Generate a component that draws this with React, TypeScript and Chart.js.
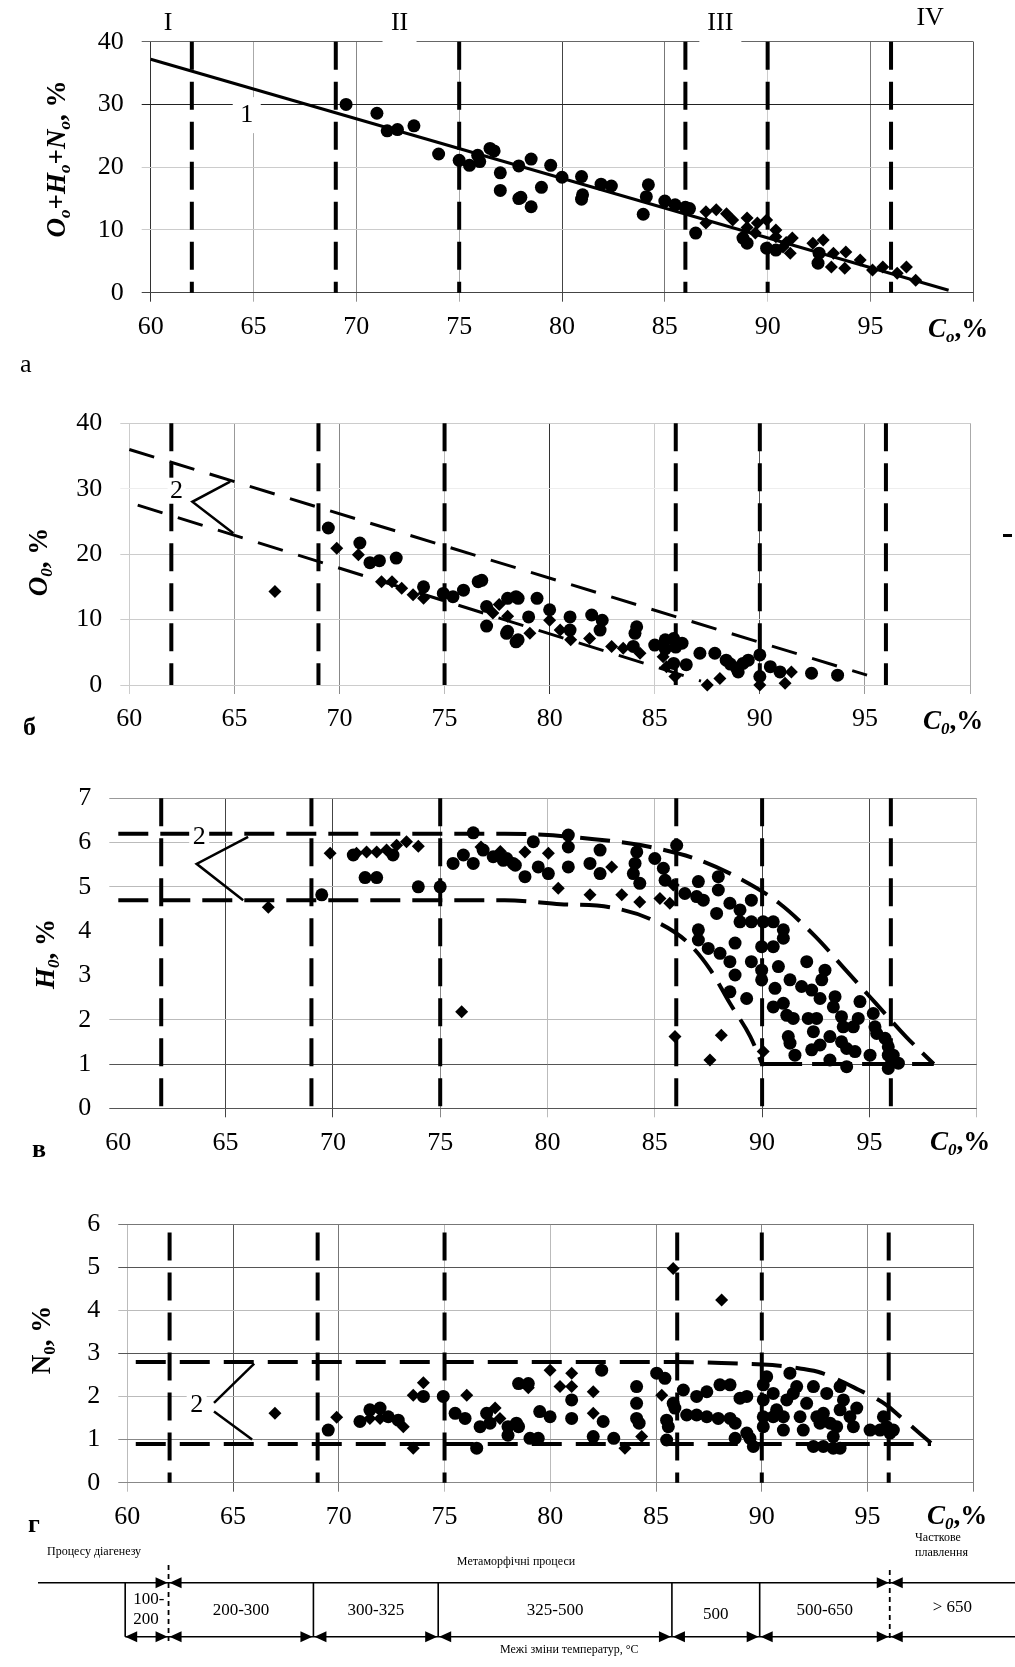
import React, { useEffect, useRef } from 'react';
import { Chart, registerables } from 'chart.js';

Chart.register(...registerables);

type Pt = [number, number];
type Seg = { t: string; b?: boolean; i?: boolean; s?: boolean };

const FONT = '"Liberation Serif", "Times New Roman", Times, serif';
const PAGE_W = 1015;

// ---------- shared axis data ----------
const xTickValues = [60, 65, 70, 75, 80, 85, 90, 95, 100];
const yTicksA = [0, 10, 20, 30, 40];
const yTicksB = [0, 10, 20, 30, 40];
const yTicksV = [0, 1, 2, 3, 4, 5, 6, 7];
const yTicksG = [0, 1, 2, 3, 4, 5, 6];
const stageBounds = [62, 69, 75, 86, 90, 96];
const stageNames = ['I', 'II', 'III', 'IV'];
const stageNameAt = [60.85, 72.1, 87.7, 97.9];

// ---------- panel a : O+H+N ----------
const aTrend: Pt[] = [[60, 37.2], [98.8, 0.4]];
const aCircles: Pt[] = [
  [69.5, 30.0], [71.0, 28.6], [71.5, 25.8], [72.0, 26.0], [72.8, 26.6], [74.0, 22.1], [75.0, 21.1],
  [75.5, 20.3], [76.0, 20.9], [75.9, 21.9], [76.5, 23.0], [76.7, 22.6], [77.0, 19.1], [77.0, 16.3],
  [77.9, 15.0], [77.9, 20.2], [78.5, 21.3], [78.0, 15.2], [78.5, 13.7], [79.0, 16.8], [79.45, 20.3],
  [80.0, 18.4], [80.95, 18.5], [80.95, 14.9], [81.0, 15.6], [81.9, 17.3], [82.4, 17.0], [84.2, 17.2],
  [84.1, 15.3], [83.95, 12.5], [85.0, 14.6], [85.5, 14.0], [86.0, 13.6], [86.2, 13.4], [86.5, 9.5],
  [88.8, 8.7], [89.0, 7.9], [89.95, 7.1], [90.4, 6.8], [92.45, 4.7], [92.5, 6.3],
];
const aDiamonds: Pt[] = [
  [87.0, 12.9], [87.5, 13.2], [88.0, 12.6], [87.0, 11.1], [88.3, 11.6], [89.0, 11.9], [89.0, 10.4],
  [89.4, 9.5], [89.5, 11.1], [89.95, 11.6], [90.4, 10.0], [90.4, 8.9], [90.75, 7.3], [90.9, 8.0],
  [91.1, 6.3], [91.2, 8.7], [92.2, 7.9], [92.7, 8.4], [93.1, 4.1], [93.2, 6.3], [93.75, 3.9],
  [93.8, 6.5], [94.5, 5.2], [95.1, 3.6], [95.6, 4.1], [96.3, 3.1], [96.75, 4.1], [97.2, 2.0],
];

// ---------- panel б : O ----------
const bUpper: Pt[] = [[60, 36.0], [95.1, 1.5]];
const bLower: Pt[] = [[60.4, 27.5], [87.2, 0.6]];
const bZigzag: Pt[] = [[64.8, 31.1], [63.0, 28.0], [64.95, 23.2]];
const bCircles: Pt[] = [
  [69.47, 24.0], [70.97, 21.7], [71.45, 18.7], [71.9, 19.0], [72.7, 19.4], [74.0, 15.0], [74.94, 14.0],
  [75.4, 13.5], [75.9, 14.5], [76.6, 15.8], [76.77, 16.0], [77.0, 12.0], [77.0, 9.0], [78.0, 13.25],
  [77.95, 7.9], [78.4, 6.6], [78.5, 13.25], [78.4, 13.5], [79.4, 13.25], [80.0, 11.5], [79.0, 10.4],
  [78.5, 6.9], [78.0, 8.2], [80.97, 10.4], [80.97, 8.4], [82.0, 10.7], [82.5, 9.9], [82.4, 8.4],
  [84.14, 8.9], [84.06, 7.9], [83.98, 5.9], [85.0, 6.1], [85.5, 6.9], [85.9, 7.1], [86.3, 6.4],
  [85.5, 5.5], [86.0, 5.8], [86.5, 3.1], [85.9, 3.3], [87.15, 4.85], [87.86, 4.85], [88.4, 3.8],
  [88.6, 3.2], [89.2, 3.3], [88.9, 2.55], [88.97, 2.0], [89.45, 3.8], [90.0, 4.6], [90.0, 1.3],
  [90.5, 2.8], [90.96, 2.0], [92.46, 1.8], [93.7, 1.5],
];
const bDiamonds: Pt[] = [
  [66.93, 14.3], [69.87, 20.9], [70.9, 19.9], [72.0, 15.8], [72.5, 15.8], [72.96, 14.8], [73.5, 13.8],
  [74.0, 13.25], [77.3, 11.0], [77.6, 12.3], [78.0, 10.5], [79.06, 7.9], [80.0, 9.9], [80.5, 8.4],
  [81.0, 6.9], [81.9, 7.1], [82.95, 5.9], [83.5, 5.6], [84.3, 4.85], [85.4, 4.3], [85.56, 2.8],
  [85.96, 1.3], [87.5, 0.0], [88.1, 1.0], [90.0, 0.0], [91.2, 0.25], [91.5, 2.0],
];

// ---------- panel в : H ----------
const vUpper: Pt[] = [
  [60, 6.2], [78, 6.2], [82.9, 6.04], [85.1, 5.87], [87.1, 5.6], [89.1, 5.15], [90.8, 4.63],
  [92.5, 3.87], [93.9, 3.12], [95.3, 2.37], [96.7, 1.62], [98, 1.0],
];
const vLower: Pt[] = [
  [60, 4.7], [78, 4.7], [80.6, 4.61], [82.9, 4.54], [84.9, 4.25], [86.5, 3.76], [87.6, 3.12],
  [88.5, 2.37], [89.45, 1.62], [90, 1.0],
];
const vBase: Pt[] = [[90, 1.0], [98, 1.0]];
const vZigzag: Pt[] = [[66.05, 6.13], [63.65, 5.52], [65.82, 4.7]];
const vCircles: Pt[] = [
  [69.48, 4.82], [70.95, 5.72], [72.8, 5.72], [71.5, 5.21], [72.04, 5.21], [73.98, 5.0], [75.0, 5.0],
  [76.54, 6.22], [75.6, 5.53], [76.08, 5.72], [76.54, 5.53], [77.0, 5.83], [77.47, 5.68], [77.94, 5.6],
  [78.4, 5.53], [78.1, 5.64], [78.5, 5.49], [78.95, 5.23], [79.34, 6.02], [79.57, 5.45], [80.04, 5.3],
  [80.97, 6.17], [80.97, 5.9], [80.97, 5.45], [81.98, 5.53], [82.45, 5.83], [82.45, 5.3], [84.0, 5.3],
  [84.16, 5.79], [84.08, 5.53], [84.3, 5.08], [85.0, 5.64], [85.4, 5.42], [85.48, 5.15], [86.02, 5.94],
  [86.4, 4.85], [87.03, 5.12], [86.95, 4.78], [87.26, 4.7], [87.03, 4.03], [87.03, 3.8], [87.49, 3.61],
  [87.96, 5.23], [87.96, 4.93], [87.88, 4.4], [88.04, 3.5], [88.5, 3.31], [88.74, 3.73], [88.74, 3.01],
  [88.5, 2.63], [89.28, 2.48], [88.5, 4.63], [88.97, 4.48], [88.97, 4.21], [89.5, 4.7], [89.5, 4.21],
  [89.5, 3.31], [90.05, 4.21], [89.98, 3.65], [89.98, 3.12], [89.98, 2.9], [90.52, 4.21], [90.52, 3.65],
  [90.99, 4.03], [90.99, 3.84], [90.76, 3.2], [90.6, 2.71], [90.52, 2.29], [90.99, 2.37], [91.3, 2.9],
  [91.15, 2.1], [91.45, 2.03], [91.22, 1.62], [91.3, 1.47], [91.53, 1.2], [92.08, 3.31], [91.84, 2.75],
  [92.31, 2.67], [92.15, 2.03], [92.54, 2.03], [92.39, 1.73], [92.31, 1.32], [92.7, 1.43], [92.93, 3.12],
  [92.78, 2.9], [92.7, 2.48], [93.16, 1.62], [93.16, 1.09], [93.4, 2.52], [93.32, 2.29], [93.7, 2.07],
  [93.78, 1.84], [93.94, 1.35], [93.94, 0.94], [93.7, 1.5], [94.25, 1.84], [94.48, 2.03], [94.33, 1.28],
  [94.56, 2.41], [95.03, 1.2], [95.18, 2.14], [95.26, 1.84], [95.34, 1.69], [95.73, 1.58], [95.88, 1.39],
  [95.88, 1.2], [96.04, 1.05], [95.88, 0.9], [96.35, 1.02], [96.11, 1.2],
];
const vDiamonds: Pt[] = [
  [66.99, 4.54], [69.87, 5.76], [71.1, 5.76], [71.57, 5.79], [72.04, 5.79], [72.5, 5.83], [72.97, 5.94],
  [73.43, 6.02], [73.98, 5.92], [76.0, 2.18], [76.9, 5.9], [77.8, 5.8], [78.95, 5.79], [80.04, 5.76],
  [80.5, 4.97], [82.99, 5.45], [81.98, 4.82], [83.46, 4.82], [84.3, 4.66], [85.24, 4.74], [85.86, 5.04],
  [85.7, 4.63], [85.94, 1.62], [88.1, 1.65], [87.57, 1.09], [90.05, 1.28],
];

// ---------- panel г : N ----------
const gUpper: Pt[] = [
  [60.4, 2.8], [86, 2.8], [88.5, 2.77], [90.5, 2.73], [91.8, 2.65], [92.8, 2.55], [94.6, 2.15],
  [95.9, 1.8], [96.5, 1.55], [98, 0.92],
];
const gLower: Pt[] = [[60.4, 0.9], [98, 0.9]];
const gZigTop: Pt[] = [[66.0, 2.76], [64.1, 1.85]];
const gZigBottom: Pt[] = [[64.1, 1.65], [65.9, 1.0]];
const gCircles: Pt[] = [
  [69.5, 1.22], [71.0, 1.42], [71.47, 1.69], [71.95, 1.73], [72.34, 1.53], [72.81, 1.45], [74.0, 2.0],
  [74.94, 2.0], [75.5, 1.61], [75.97, 1.49], [76.68, 1.3], [77.15, 1.38], [76.99, 1.61], [76.52, 0.8],
  [78.0, 1.3], [78.0, 1.1], [78.4, 1.38], [78.5, 2.3], [78.96, 2.3], [78.5, 1.3], [79.04, 1.03],
  [79.43, 1.03], [79.5, 1.65], [79.99, 1.53], [81.01, 1.92], [81.01, 1.49], [82.43, 2.61], [82.5, 1.42],
  [82.03, 1.07], [83.0, 1.03], [84.08, 2.23], [84.08, 1.84], [84.08, 1.49], [84.2, 1.38], [85.03, 2.54],
  [85.42, 2.42], [85.81, 1.84], [85.89, 1.73], [85.5, 1.45], [85.58, 1.3], [85.5, 0.99], [86.45, 1.57],
  [86.92, 1.57], [87.4, 1.53], [87.94, 1.49], [88.5, 1.49], [86.29, 2.15], [86.92, 2.0], [87.4, 2.11],
  [88.02, 2.27], [88.5, 2.27], [88.74, 1.38], [89.29, 1.15], [89.6, 0.84], [89.44, 1.03], [88.74, 1.03],
  [89.29, 2.0], [88.97, 1.96], [90.07, 2.27], [90.07, 1.92], [90.07, 1.53], [90.07, 1.3], [90.23, 2.46],
  [90.54, 2.07], [90.54, 1.53], [90.7, 1.69], [91.02, 1.53], [91.02, 1.22], [91.18, 1.92], [91.49, 2.07],
  [91.33, 2.54], [91.65, 2.23], [91.81, 1.53], [91.96, 1.22], [92.12, 1.84], [92.44, 2.23], [92.6, 1.53],
  [92.91, 1.61], [92.75, 1.38], [93.07, 2.07], [93.23, 1.38], [93.38, 1.07], [93.54, 1.3], [93.7, 2.23],
  [93.7, 1.69], [93.86, 1.92], [94.17, 1.53], [94.33, 1.3], [94.49, 1.73], [92.44, 0.84], [92.91, 0.84],
  [93.38, 0.8], [93.7, 0.8], [95.12, 1.22], [95.59, 1.22], [95.75, 1.53], [95.9, 1.3], [96.22, 1.22],
  [96.06, 1.15],
];
const gDiamonds: Pt[] = [
  [66.98, 1.61], [69.9, 1.52], [71.47, 1.49], [71.95, 1.49], [73.05, 1.3], [73.52, 0.8], [73.52, 2.03],
  [74.0, 2.32], [76.05, 2.03], [77.39, 1.73], [77.62, 1.49], [78.96, 2.2], [79.99, 2.61], [81.01, 2.54],
  [80.46, 2.23], [81.01, 2.23], [82.03, 2.11], [82.03, 1.61], [83.53, 0.8], [84.32, 1.07], [85.27, 2.03],
  [85.81, 4.97], [88.1, 4.24],
];

// ---------- temperature scale ----------
const tempBounds = [59.9, 61.95, 68.8, 74.7, 85.75, 89.9, 96.05];
const tempLabels = ['100-200', '200-300', '300-325', '325-500', '500', '500-650', '> 650'];
const processLabels = ['Процесу діагенезу', 'Метаморфічні процеси', 'Часткове', 'плавлення'];
const tempCaption = 'Межі зміни температур, °C';

// ---------- grid colours ----------
const T = 'rgba(0,0,0,0)';
const aXGrid = ['#333', '#aaa', '#888', '#aaa', '#444', '#777', '#ccc', '#777', '#555'];
const aYGrid = ['#444', '#ccc', '#ccc', '#222', '#666'];
const bXGrid = ['#ccc', '#999', '#888', '#bbb', '#333', '#ccc', '#555', '#999', '#aaa'];
const bYGrid = ['#ccc', '#ccc', '#ccc', '#eee', '#ccc'];
const vXGrid = [T, '#444', '#444', '#888', '#bbb', '#bbb', '#444', '#444', '#bbb'];
const vYGrid = ['#555', '#555', '#bbb', T, T, '#bbb', '#bbb', '#999'];
const gXGrid = ['#bbb', '#555', '#777', '#bbb', '#bbb', '#888', '#888', '#888', '#777'];
const gYGrid = ['#888', '#888', '#bbb', '#555', '#bbb', '#555', '#777'];

// ---------- helpers ----------
function rich(ctx: CanvasRenderingContext2D, segs: Seg[], x: number, y: number, size: number, align: 'left' | 'center', rotate = false) {
  ctx.save();
  ctx.translate(x, y);
  if (rotate) ctx.rotate(-Math.PI / 2);
  const fonts = segs.map((s) => `${s.i ? 'italic ' : ''}${s.b ? 'bold ' : ''}${s.s ? Math.round(size * 0.62) : size}px ${FONT}`);
  let total = 0;
  const widths = segs.map((s, k) => {
    ctx.font = fonts[k];
    const w = ctx.measureText(s.t).width;
    total += w;
    return w;
  });
  let cx = align === 'center' ? -total / 2 : 0;
  ctx.textBaseline = 'middle';
  ctx.textAlign = 'left';
  ctx.fillStyle = '#000';
  segs.forEach((s, k) => {
    ctx.font = fonts[k];
    ctx.fillText(s.t, cx, s.s ? size * 0.27 : 0);
    cx += widths[k];
  });
  ctx.restore();
}

function text(ctx: CanvasRenderingContext2D, t: string, x: number, y: number, font: string, align: CanvasTextAlign = 'center') {
  ctx.save();
  ctx.font = font;
  ctx.fillStyle = '#000';
  ctx.textAlign = align;
  ctx.textBaseline = 'middle';
  ctx.fillText(t, x, y);
  ctx.restore();
}

function boxedLabel(chart: Chart, t: string, vx: number, vy: number, hw: number, hh: number) {
  const ctx = chart.ctx;
  const x = chart.scales.x.getPixelForValue(vx);
  const y = chart.scales.y.getPixelForValue(vy);
  ctx.save();
  ctx.fillStyle = '#fff';
  ctx.fillRect(x - hw, y - hh, hw * 2, hh * 2);
  ctx.restore();
  text(ctx, t, x, y, `26px ${FONT}`);
}

const xTitle0: Seg[] = [{ t: 'C', b: true, i: true }, { t: '0', b: true, i: true, s: true }, { t: ',%', b: true }];

interface LineSpec { pts: Pt[]; width: number; dash: number[]; smooth?: boolean }
interface PanelSpec {
  height: number;
  area: { l: number; r: number; t: number; b: number };
  yMax: number;
  yTicks: number[];
  xGrid: string[];
  yGrid: string[];
  stageTop: number;
  lines: LineSpec[];
  circles: Pt[];
  diamonds: Pt[];
  draw: (chart: Chart) => void;
}

const toXY = (p: Pt[]) => p.map(([x, y]) => ({ x, y }));

function buildConfig(spec: PanelSpec): any {
  const datasets: any[] = [];
  stageBounds.forEach((b) => {
    datasets.push({
      data: toXY([[b, spec.stageTop], [b, 0]]), showLine: true, borderColor: '#000', borderWidth: 4,
      borderDash: [28, 12], pointRadius: 0, clip: false,
    });
  });
  spec.lines.forEach((l) => {
    datasets.push({
      data: toXY(l.pts), showLine: true, borderColor: '#000', borderWidth: l.width, borderDash: l.dash,
      pointRadius: 0, clip: false, cubicInterpolationMode: l.smooth ? 'monotone' : 'default', tension: 0,
    });
  });
  datasets.push({
    data: toXY(spec.circles), showLine: false, pointStyle: 'circle', pointRadius: 6.5,
    pointBackgroundColor: '#000', backgroundColor: '#000', pointBorderWidth: 0, borderColor: '#000', clip: false,
  });
  datasets.push({
    data: toXY(spec.diamonds), showLine: false, pointStyle: 'rectRot', pointRadius: 6.5,
    pointBackgroundColor: '#000', backgroundColor: '#000', pointBorderWidth: 0, borderColor: '#000', clip: false,
  });
  const tickFont = { family: FONT, size: 26 };
  return {
    type: 'scatter',
    data: { datasets },
    options: {
      animation: false,
      responsive: false,
      maintainAspectRatio: false,
      events: [],
      layout: { padding: { left: 0, right: PAGE_W - spec.area.r, top: spec.area.t, bottom: 0 } },
      plugins: { legend: { display: false }, tooltip: { enabled: false }, title: { display: false } },
      scales: {
        x: {
          type: 'linear', min: 60, max: 100,
          afterBuildTicks: (s: any) => { s.ticks = xTickValues.map((v) => ({ value: v })); },
          afterFit: (s: any) => { s.height = spec.height - spec.area.b; },
          ticks: { autoSkip: false, maxRotation: 0, padding: 10, color: '#000', font: tickFont, callback: (v: any) => (v === 100 ? '' : String(v)) },
          grid: { color: (c: any) => spec.xGrid[c.index] ?? '#999', lineWidth: 1, tickLength: 9, drawTicks: true },
          border: { display: false },
        },
        y: {
          type: 'linear', min: 0, max: spec.yMax,
          afterBuildTicks: (s: any) => { s.ticks = spec.yTicks.map((v) => ({ value: v })); },
          afterFit: (s: any) => { s.width = spec.area.l; },
          ticks: { autoSkip: false, padding: 18, color: '#000', font: tickFont },
          grid: { color: (c: any) => spec.yGrid[c.index] ?? '#999', lineWidth: 1, tickLength: 9, drawTicks: true },
          border: { display: false },
        },
      },
    },
    plugins: [{ id: 'panelExtras', afterDatasetsDraw: (chart: Chart) => spec.draw(chart) }],
  };
}

// ---------- panel specs ----------
const specA: PanelSpec = {
  height: 385,
  area: { l: 150.7, r: 973.3, t: 41.7, b: 292.7 },
  yMax: 40, yTicks: yTicksA, xGrid: aXGrid, yGrid: aYGrid, stageTop: 40,
  lines: [{ pts: aTrend, width: 3, dash: [] }],
  circles: aCircles, diamonds: aDiamonds,
  draw: (chart) => {
    const ctx = chart.ctx;
    const xs = chart.scales.x;
    const top = chart.chartArea.top;
    ctx.save();
    ctx.fillStyle = '#fff';
    ctx.fillRect(xs.getPixelForValue(stageNameAt[1]) - 17, top - 3, 34, 6);
    ctx.fillRect(xs.getPixelForValue(stageNameAt[2]) - 21, top - 3, 42, 6);
    ctx.restore();
    stageNames.forEach((n, k) => text(ctx, n, xs.getPixelForValue(stageNameAt[k]), k === 3 ? 18 : 23.5, `26px ${FONT}`));
    boxedLabel(chart, '1', 64.67, 28.3, 14, 18);
    rich(ctx, [
      { t: 'O', b: true, i: true }, { t: 'o', b: true, i: true, s: true }, { t: '+', b: true },
      { t: 'H', b: true, i: true }, { t: 'o', b: true, i: true, s: true }, { t: '+', b: true },
      { t: 'N', b: true, i: true }, { t: 'o', b: true, i: true, s: true }, { t: ', %', b: true },
    ], 58, 159, 27, 'center', true);
    rich(ctx, [{ t: 'C', b: true, i: true }, { t: 'o', b: true, i: true, s: true }, { t: ',%', b: true }], 928, 330, 27, 'left');
    text(ctx, 'a', 20, 365, `26px ${FONT}`, 'left');
  },
};

const specB: PanelSpec = {
  height: 355,
  area: { l: 129.3, r: 970, t: 38.3, b: 300 },
  yMax: 40, yTicks: yTicksB, xGrid: bXGrid, yGrid: bYGrid, stageTop: 40,
  lines: [
    { pts: bUpper, width: 3, dash: [26, 16] },
    { pts: bLower, width: 3, dash: [26, 16] },
    { pts: bZigzag, width: 2.5, dash: [] },
  ],
  circles: bCircles, diamonds: bDiamonds,
  draw: (chart) => {
    const ctx = chart.ctx;
    boxedLabel(chart, '2', 62.25, 29.7, 9, 13);
    rich(ctx, [{ t: 'O', b: true, i: true }, { t: '0', b: true, i: true, s: true }, { t: ', %', b: true }], 40, 177, 27, 'center', true);
    rich(ctx, xTitle0, 923, 337, 27, 'left');
    text(ctx, 'б', 23, 343, `bold 26px ${FONT}`, 'left');
    ctx.save();
    ctx.fillStyle = '#000';
    ctx.fillRect(1003, 149, 9, 3);
    ctx.restore();
  },
};

const specV: PanelSpec = {
  height: 420,
  area: { l: 118.3, r: 976.7, t: 58.3, b: 368.3 },
  yMax: 7, yTicks: yTicksV, xGrid: vXGrid, yGrid: vYGrid, stageTop: 7,
  lines: [
    { pts: vUpper, width: 4, dash: [30, 12], smooth: true },
    { pts: vLower, width: 4, dash: [30, 12], smooth: true },
    { pts: vBase, width: 4, dash: [40, 10] },
    { pts: vZigzag, width: 2.5, dash: [] },
  ],
  circles: vCircles, diamonds: vDiamonds,
  draw: (chart) => {
    const ctx = chart.ctx;
    boxedLabel(chart, '2', 63.77, 6.13, 10, 11);
    rich(ctx, [{ t: 'H', b: true, i: true }, { t: '0', b: true, i: true, s: true }, { t: ', %', b: true }], 47, 214, 27, 'center', true);
    rich(ctx, xTitle0, 930, 403, 27, 'left');
    text(ctx, 'в', 32, 410, `bold 26px ${FONT}`, 'left');
  },
};

function arrow(ctx: CanvasRenderingContext2D, tipX: number, y: number, dir: number) {
  ctx.beginPath();
  ctx.moveTo(tipX, y);
  ctx.lineTo(tipX - dir * 12, y - 5.5);
  ctx.lineTo(tipX - dir * 12, y + 5.5);
  ctx.closePath();
  ctx.fill();
}

function drawTempScale(chart: Chart) {
  const ctx = chart.ctx;
  const xs = chart.scales.x;
  const px = tempBounds.map((b) => xs.getPixelForValue(b));
  const topY = 422.7;
  const botY = 476.7;
  ctx.save();
  ctx.strokeStyle = '#000';
  ctx.fillStyle = '#000';
  ctx.lineWidth = 1.6;
  ctx.beginPath();
  ctx.moveTo(38, topY); ctx.lineTo(PAGE_W, topY);
  ctx.moveTo(px[0], botY); ctx.lineTo(PAGE_W, botY);
  [0, 2, 3, 4, 5].forEach((k) => { ctx.moveTo(px[k], topY); ctx.lineTo(px[k], botY); });
  ctx.stroke();
  ctx.setLineDash([5, 4]);
  ctx.lineWidth = 1.8;
  ctx.beginPath();
  ctx.moveTo(px[1], 405); ctx.lineTo(px[1], 481);
  ctx.moveTo(px[6], 410); ctx.lineTo(px[6], 481);
  ctx.stroke();
  ctx.setLineDash([]);
  [1, 6].forEach((k) => { arrow(ctx, px[k] - 1, topY, 1); arrow(ctx, px[k] + 1, topY, -1); });
  arrow(ctx, px[0], botY, -1);
  for (let k = 1; k < px.length; k++) { arrow(ctx, px[k] - 1, botY, 1); arrow(ctx, px[k] + 1, botY, -1); }
  ctx.restore();

  const numFont = `17px ${FONT}`;
  const [lo, hi] = tempLabels[0].split('-');
  text(ctx, lo + '-', px[0] + 8, 440, numFont, 'left');
  text(ctx, hi, px[0] + 8, 460, numFont, 'left');
  for (let k = 1; k < tempLabels.length; k++) {
    const right = k + 1 < px.length ? px[k + 1] : PAGE_W;
    const yy = tempLabels[k] === '500' ? 455 : tempLabels[k] === '> 650' ? 448 : 451;
    text(ctx, tempLabels[k], (px[k] + right) / 2, yy, numFont);
  }
  const small = `12px ${FONT}`;
  text(ctx, processLabels[0], 47, 392, small, 'left');
  text(ctx, processLabels[1], 516, 401.7, small);
  text(ctx, processLabels[2], 915, 378, small, 'left');
  text(ctx, processLabels[3], 915, 393, small, 'left');
  text(ctx, tempCaption, 500, 490, small, 'left');
}

const specG: PanelSpec = {
  height: 507,
  area: { l: 127.3, r: 973.3, t: 64, b: 322.7 },
  yMax: 6, yTicks: yTicksG, xGrid: gXGrid, yGrid: gYGrid, stageTop: 5.8,
  lines: [
    { pts: gUpper, width: 4, dash: [30, 14], smooth: true },
    { pts: gLower, width: 4, dash: [30, 14] },
    { pts: gZigTop, width: 2.5, dash: [] },
    { pts: gZigBottom, width: 2.5, dash: [] },
  ],
  circles: gCircles, diamonds: gDiamonds,
  draw: (chart) => {
    const ctx = chart.ctx;
    boxedLabel(chart, '2', 63.28, 1.8, 10, 12);
    rich(ctx, [{ t: 'N', b: true }, { t: '0', b: true, s: true }, { t: ', %', b: true }], 43, 180, 27, 'center', true);
    rich(ctx, xTitle0, 927, 357, 27, 'left');
    text(ctx, 'г', 28, 365, `bold 26px ${FONT}`, 'left');
    drawTempScale(chart);
  },
};

function Panel({ top, spec }: { top: number; spec: PanelSpec }) {
  const ref = useRef<HTMLCanvasElement>(null);
  useEffect(() => {
    const chart = new Chart(ref.current as HTMLCanvasElement, buildConfig(spec));
    return () => chart.destroy();
  }, [spec]);
  return (
    <canvas
      ref={ref}
      width={PAGE_W}
      height={spec.height}
      style={{ position: 'absolute', left: 0, top, width: PAGE_W, height: spec.height, display: 'block' }}
    />
  );
}

export default function App() {
  return (
    <div style={{ position: 'absolute', left: 0, top: 0, width: PAGE_W, height: 1667, background: '#fff', overflow: 'hidden' }}>
      <Panel top={0} spec={specA} />
      <Panel top={385} spec={specB} />
      <Panel top={740} spec={specV} />
      <Panel top={1160} spec={specG} />
    </div>
  );
}
